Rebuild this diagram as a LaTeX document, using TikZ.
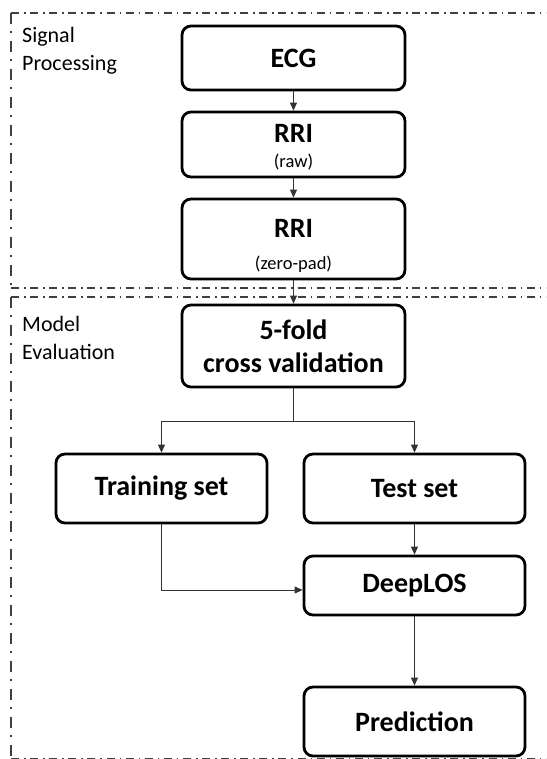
\documentclass[tikz,border=0pt]{standalone}
\usepackage{fontspec}
\setmainfont{Carlito}
\usetikzlibrary{arrows.meta}
\begin{document}
\begin{tikzpicture}[x=1pt,y=-1pt,
  box/.style={draw=black, line width=2.8pt, rounded corners=9pt, inner sep=0pt, align=center,
    font=\fontsize{28}{32}\selectfont\bfseries},
  arr/.style={draw=black!80, line width=0.9pt, -{Triangle[length=8pt,width=7pt]}},
  conn/.style={draw=black!80, line width=0.9pt},
  hframe/.style={draw=black!75, line width=1.8pt, dash pattern=on 8pt off 5pt on 1.6pt off 4.5pt},
  vframe/.style={draw=black!75, line width=1.8pt, dash pattern=on 11pt off 7pt on 2pt off 8pt},
  lab/.style={anchor=north west, inner sep=0pt, align=left, font=\fontsize{22}{28}\selectfont}
]
\newcommand{\subtxt}[1]{{\fontsize{18.5}{20}\selectfont\mdseries #1}}
\clip (0,0) rectangle (546,759);
% frames
\draw[hframe] (11,13) -- (560,13);
\draw[vframe] (11,13) -- (11,288);
\draw[hframe] (11,288) -- (560,288);
\draw[hframe] (11,297) -- (560,297);
\draw[vframe] (11,297) -- (11,770);
\draw[hframe] (11,759) -- (560,759);
% labels
\node[lab] (splab) at (22,27) {Signal\\Processing};
\node[lab] (melab) at (22,316) {Model\\Evaluation};
% boxes
\node[box, minimum width=223pt, minimum height=64pt] (ecg) at (293.5,58) {ECG};
\node[box, minimum width=223pt, minimum height=65pt] (rriraw) at (293.5,144.5) {\rule{0pt}{24pt}RRI\\[-7pt]\subtxt{(raw)}};
\node[box, minimum width=223pt, minimum height=80pt] (rrizp) at (293.5,239) {\rule{0pt}{32pt}RRI\\[0pt]\subtxt{(zero-pad)}};
\node[box, minimum width=223pt, minimum height=82pt] (fold) at (293.5,346) {5-fold\\[1pt]cross validation};
\node[box, minimum width=211pt, minimum height=69pt] (train) at (161.5,488.5) {Training set};
\node[box, minimum width=221pt, minimum height=69pt] (test) at (414.5,488.5) {Test set};
\node[box, minimum width=221pt, minimum height=59pt] (deep) at (414.5,585.5) {DeepLOS};
\node[box, minimum width=221pt, minimum height=69pt] (pred) at (414.5,721.5) {Prediction};
% connectors
\draw[arr] (ecg) -- (rriraw);
\draw[arr] (rriraw) -- (rrizp);
\draw[arr] (rrizp) -- (fold);
\draw[conn] (fold.south) -- ++(0,33) coordinate (split);
\draw[arr] (split) -| (train.north);
\draw[arr] (split) -| (test.north);
\draw[arr] (test) -- (deep);
\draw[arr] (train.south) |- ([yshift=-4.5pt]deep.west);
\draw[arr] (deep) -- (pred);
\end{tikzpicture}
\end{document}
